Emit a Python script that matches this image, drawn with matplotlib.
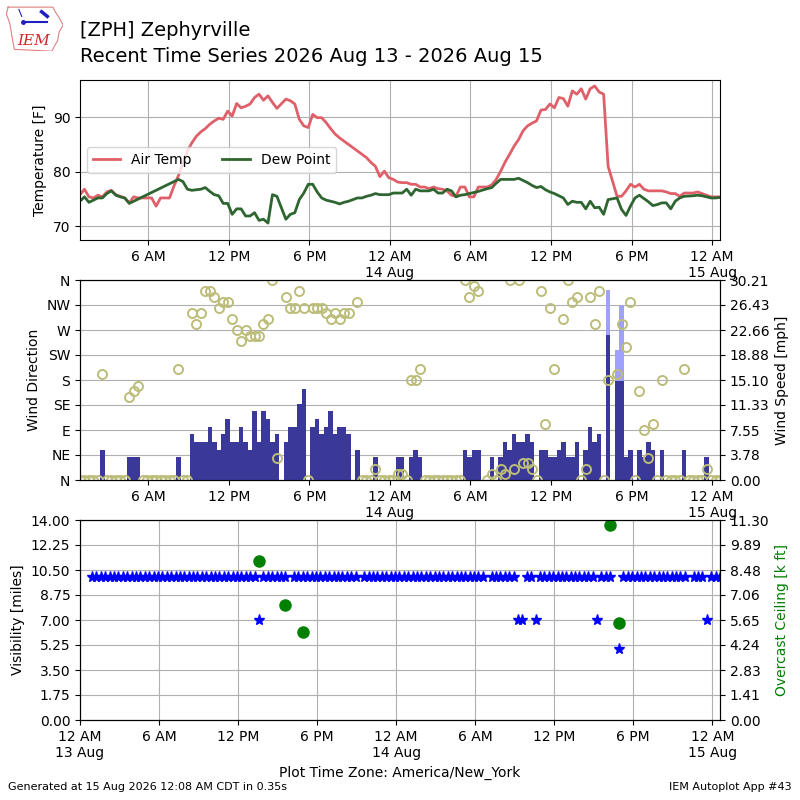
#!/usr/bin/env python3
"""Recent time series meteogram for ZPH (temperature, wind, visibility/ceiling)."""

import matplotlib
matplotlib.use('Agg')
import matplotlib.pyplot as plt
import matplotlib.dates as mdates
from matplotlib.ticker import FuncFormatter, FixedLocator
import numpy as np
import pandas as pd

# --- observation times (20 minute reports) ---
obs_times = pd.date_range('2026-08-13 00:55', periods=144, freq='20min')

# --- temperature / dew point [F]; None = missing report ---
tmpf = [
    75.8, 76.8, 75.4, 75.2, 75.7, 75.4, 76.3, 76.6, 75.8, 75.5,
    75.2, 74.3, 75.4, 75.2, 75.2, 75.2, 75.2, 73.7, 75.2, 75.2,
    75.2, 77.4, 79.3, 81.7, 83.8, 85.3, 86.5, 87.3, 87.9, 88.7,
    89.3, 89.8, 89.6, 91.1, 90.2, 92.5, 91.7, 92.0, 92.4, 93.6,
    94.2, 93.1, 93.9, 92.7, 91.6, None, 93.3, 93.0, 92.4, 89.6,
    88.4, 88.1, 90.5, 89.9, 89.9, 89.0, 87.9, 86.9, 86.2, 85.6,
    85.0, None, 83.8, 83.2, 82.6, 81.7, 81.0, 79.1, 80.1, 78.9,
    78.6, 78.1, 78.0, 78.0, 77.7, 77.7, 77.2, 77.2, 76.9, 77.2,
    76.9, 76.8, 76.5, 75.7, 75.5, 77.2, 77.2, 75.4, 75.4, 77.2,
    None, 77.2, 77.6, 78.6, 80.1, 81.8, 83.2, 84.7, 85.9, 87.5,
    88.4, 88.9, 89.3, 91.3, 91.4, 92.4, 91.7, 93.6, 93.4, 92.0,
    94.8, 94.2, 95.2, 93.3, 95.2, 95.7, 94.6, 94.2, 81.0, None,
    75.5, 75.5, 76.5, 77.7, 77.2, 77.7, 76.8, 76.5, 76.5, 76.5,
    76.5, 76.3, 76.0, 76.0, 75.5, 76.1, None, 76.1, 76.3, 76.0,
    75.7, 75.4, 75.4, 75.4,
]
dwpf = [
    74.6, 75.4, 74.4, 74.8, 75.2, 75.2, 76.0, 76.5, 75.7, 75.4,
    75.2, 74.2, None, None, None, None, None, None, None, None,
    None, None, 78.6, 78.2, 76.8, 76.6, 76.7, 76.8, 77.1, 76.4,
    75.8, 75.6, 74.2, 74.2, 72.2, 73.2, 73.2, 71.9, 71.9, 72.5,
    71.1, 71.3, 70.6, 75.8, 75.5, None, 71.3, 72.2, 72.5, 74.9,
    76.1, 77.7, 77.7, 76.3, 75.2, 74.8, 74.6, 74.4, 74.1, 74.4,
    74.6, None, 75.2, 75.2, 75.5, 75.7, 76.0, 75.8, 75.8, 75.8,
    76.1, 76.1, 76.1, 76.8, 75.7, 76.8, 76.5, 76.5, 76.5, 76.8,
    76.1, 76.1, 76.8, 76.5, 75.4, 75.7, 75.8, 76.0, 76.2, 76.4,
    None, 76.9, 77.1, 77.9, 78.6, 78.6, 78.6, 78.6, 78.8, 78.4,
    78.0, 77.5, 77.1, 77.3, 76.7, 76.3, 76.0, 75.6, 75.2, 74.0,
    74.6, 74.4, 74.4, 73.2, 74.6, 73.4, 73.5, 72.2, 74.9, None,
    75.2, 73.1, 72.0, 73.7, 75.2, 75.7, 75.1, 74.5, 73.8, 74.0,
    74.3, 74.3, 73.2, 74.6, 75.2, 75.5, None, 75.6, 75.7, 75.6,
    75.4, 75.2, 75.2, 75.3,
]

# --- wind speed / gust [kt] and direction [deg] ---
sknt = (
    [0, 0, 0, 0, 0, 4, 0, 0, 0, 0, 0, 3, 3, 3]
    + [0] * 8
    + [3, 0, 0, 6, 5, 5, 5, 7, 5, 4, 6, 8, 5, 5, 7, 5, 4, 9, 5, 9, 8, 5, 6,
       None, 5, 7, 7, 10, 12, 0, 7, 8, 6, 7, 9, 6, 7, 7, 6, None, 4, 0, 0, 0,
       3, 0, 0, 0, 0, 3, 3, 0, 3, 4, 3]
    + [0] * 9
    + [4, 3, 4, 4, None, 0, 3, 0, 3, 5, 4, 6, 5, 5, 6, 5, 0, 4, 4, 3, 3, 4,
       5, 3, 3, 5, 0, 4, 7, 5, 6, 0, 19, None, 13, 13, 3, 4, 0, 4, 3, 5, 4,
       0, 4, 0, 0, 0, 0, 4, 0, 0, 0, 0, 3, 0, 0, 0]
)
gust = [None] * 118 + [25, None, 17, 23] + [None] * 22
drct = (
    [0, 0, 0, 0, 0, 190, 0, 0, 0, 0, 0, 150, 160, 170]
    + [0] * 8
    + [200, 0, 0, 300, 280, 300, 340, 340, 330, 310, 320, 320, 290, 270,
       250, 270, 260, 260, 260, 280, 290, 360, 40, None, 330, 310, 310, 340,
       310, 0, 310, 310, 310, 300, 290, 300, 290, 300, 300, None, 320, 0, 0,
       0, 20, 0, 0, 0, 0, 10, 10, 0, 180, 180, 200]
    + [0] * 9
    + [360, 330, 350, 340, None, 0, 10, 0, 20, 10, 360, 20, 360, 30, 30, 20,
       0, 340, 100, 310, 200, None, 290, 360, 320, 330, 0, 20, 330, 280, 340,
       0, 180, None, 190, 280, 240, 320, 0, 160, 90, 40, 100, 0, 180, 0, 0,
       0, 0, 200, 0, 0, 0, 0, 20, 0, 0, 0]
)

# --- visibility [miles] and overcast ceiling [k ft] ---
vsby = ([10.0] * 38 + [7.0] + [10.0] * 6 + [None] + [10.0] * 15 + [None]
        + [10.0] * 28 + [None] + [10.0] * 6 + [7.0, 7.0, 10.0, 10.0, 7.0]
        + [10.0] * 13 + [7.0, 10.0, 10.0, 10.0, None, 5.0] + [10.0] * 15
        + [None, 10.0, 10.0, 10.0, 7.0, 10.0, 10.0, 10.0])
ceiling = ([None] * 38 + [9.0] + [None] * 5 + [6.5] + [None] * 3 + [5.0]
           + [None] * 69 + [11.0, None, 5.5] + [None] * 23)

for arr in (tmpf, dwpf, sknt, gust, drct, vsby, ceiling):
    assert len(arr) == len(obs_times), len(arr)

tmpf = np.array(tmpf, dtype=float)
dwpf = np.array(dwpf, dtype=float)
sknt = np.array(sknt, dtype=float)
gust = np.array(gust, dtype=float)
drct = np.array(drct, dtype=float)
vsby = np.array(vsby, dtype=float)
ceiling = np.array(ceiling, dtype=float)

KT2MPH = 1.15078
smph = sknt * KT2MPH
gmph = gust * KT2MPH
wind_top = np.nanmax(gmph) * 1.05

TEMP_COLOR = '#e0606a'
DEW_COLOR = '#2e6530'
BAR_COLOR = '#3a3898'
GUST_COLOR = '#a0a0ff'
DIR_COLOR = '#bdbd7a'

BAR_WIDTH = 20.0 / 1440.0


def time_label(x, pos):
    d = mdates.num2date(x)
    if d.hour == 0:
        return '12 AM\n%d %s' % (d.day, d.strftime('%b'))
    return d.strftime('%I %p').lstrip('0')


fig = plt.figure(figsize=(8, 8), dpi=100)

# --- temperature panel ---
ax1 = fig.add_axes([0.1, 0.7, 0.8, 0.2])
m = ~np.isnan(tmpf)
ax1.plot(obs_times[m], tmpf[m], color=TEMP_COLOR, lw=2, label='Air Temp')
m = ~np.isnan(dwpf)
ax1.plot(obs_times[m], dwpf[m], color=DEW_COLOR, lw=2, label='Dew Point')
ax1.set_ylim(67.5, 96.8)
ax1.set_yticks([70, 80, 90])
ax1.set_ylabel('Temperature [F]')
ax1.legend(loc='center left', ncol=2, columnspacing=2.2)
ax1.grid(True)

# --- wind panel ---
ax2 = fig.add_axes([0.1, 0.4, 0.8, 0.25])
ax2s = ax2.twinx()
ax2.set_zorder(ax2s.get_zorder() + 1)
ax2.patch.set_visible(False)
ax2s.patch.set_visible(True)
ax2s.set_axisbelow(True)
ax2s.bar(obs_times, gmph, width=BAR_WIDTH, color=GUST_COLOR, zorder=2)
ax2s.bar(obs_times, smph, width=BAR_WIDTH, color=BAR_COLOR, zorder=3)
ax2s.set_ylim(0, wind_top)
ax2s.yaxis.set_major_locator(FixedLocator(np.linspace(0, wind_top, 9)))
ax2s.yaxis.set_major_formatter(FuncFormatter(lambda v, p: '%.2f' % v))
ax2s.set_ylabel('Wind Speed [mph]')
ax2s.grid(True)
ax2.plot(obs_times, drct, 'o', mfc='none', mec=DIR_COLOR, mew=1.4, ms=6.5)
ax2.set_ylim(0, 360)
ax2.set_yticks(np.arange(0, 361, 45))
ax2.set_yticklabels(['N', 'NE', 'E', 'SE', 'S', 'SW', 'W', 'NW', 'N'])
ax2.set_ylabel('Wind Direction')

for ax in (ax1, ax2):
    ax.set_xlim(obs_times[0], obs_times[-1])

# --- visibility / ceiling panel ---
ax3 = fig.add_axes([0.1, 0.1, 0.8, 0.25])
ax3s = ax3.twinx()
ax3.plot(obs_times, vsby, '*', color='b', ms=8)
ax3.set_ylim(0, 14)
ax3.yaxis.set_major_locator(FixedLocator(np.linspace(0, 14, 9)))
ax3.yaxis.set_major_formatter(FuncFormatter(lambda v, p: '%.2f' % v))
ax3.set_ylabel('Visibility [miles]')
ax3.grid(True)
ax3s.plot(obs_times, ceiling, 'o', color='g', ms=8)
ax3s.set_ylim(0, 11.30)
ax3s.yaxis.set_major_locator(FixedLocator(np.linspace(0, 11.30, 9)))
ax3s.yaxis.set_major_formatter(FuncFormatter(lambda v, p: '%.2f' % v))
ax3s.set_ylabel('Overcast Ceiling [k ft]', color='g')
ax3.set_xlim(pd.Timestamp('2026-08-13 00:00'), obs_times[-1])
ax3.set_xlabel('Plot Time Zone: America/New_York')

for ax in (ax1, ax2, ax3):
    ax.xaxis.set_major_locator(mdates.HourLocator(byhour=[0, 6, 12, 18]))
    ax.xaxis.set_major_formatter(FuncFormatter(time_label))

# --- logo (rough state outline, station glyph, IEM letters) ---
logo = fig.add_axes([0.008, 0.936, 0.071, 0.058])
logo.set_xlim(0, 1)
logo.set_ylim(0, 1)
logo.axis('off')
outline_x = [0.03, 0.82, 0.86, 0.93, 1.0, 0.93, 0.9, 0.84, 0.8, 0.14, 0.1,
             0.06, 0.0, 0.03]
outline_y = [0.95, 0.95, 0.85, 0.72, 0.56, 0.42, 0.22, 0.1, 0.0, 0.04, 0.3,
             0.6, 0.8, 0.95]
logo.plot(outline_x, outline_y, color='#e08080', lw=0.8)
logo.plot([0.3, 0.72], [0.62, 0.62], color='#2020c0', lw=1.5)
logo.plot([0.3], [0.62], 'o', color='#2020c0', ms=2.5)
logo.plot([0.62, 0.72], [0.85, 0.75], color='#2020c0', lw=2.5)
logo.plot([0.22, 0.27], [0.9, 0.75], color='#2020c0', lw=0.8)
logo.text(0.48, 0.22, 'IEM', color='#d02828', fontsize=11, fontstyle='italic',
          family='serif', ha='center', va='center')

# --- header / footer ---
fig.text(0.1, 0.962, '[ZPH] Zephyrville', fontsize=14, va='center')
fig.text(0.1, 0.93, 'Recent Time Series 2026 Aug 13 - 2026 Aug 15',
         fontsize=14, va='center')
fig.text(0.01, 0.013, 'Generated at 15 Aug 2026 12:08 AM CDT in 0.35s',
         fontsize=8)
fig.text(0.99, 0.013, 'IEM Autoplot App #43', fontsize=8, ha='right')

plt.savefig('out.png', dpi=100)
